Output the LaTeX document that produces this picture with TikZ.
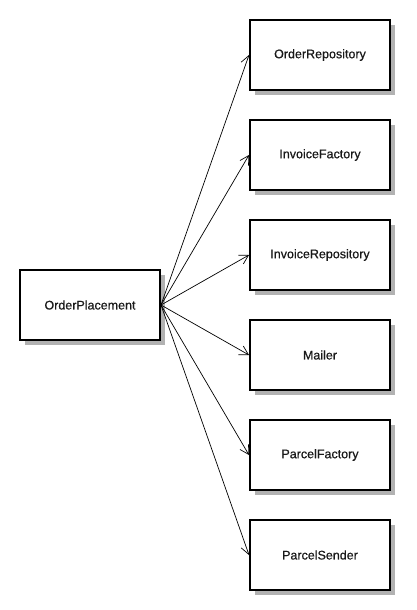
\documentclass[tikz,border=0pt]{standalone}
\usepackage{fontspec}
\setmainfont{Liberation Sans}[FakeBold=0.6]
\usepackage{tikz}
\usetikzlibrary{positioning, shadows, arrows.meta}
\tikzset{
    block/.style={
        draw, line width = 2pt,
        fill = white,
        minimum width = 140pt,
        minimum height = 70pt,
        align = center,
        text = black!90,
        font = \fontsize{12.5}{15}\selectfont,
        drop shadow = {shadow xshift=5pt, shadow yshift=-5pt, fill=black!30, opacity=1}
    },
    line/.style = {line width=0.7pt, -{Straight Barb[angle=60:10pt, line width=0.7pt]}}
}
\begin{document}
\begin{tikzpicture}
    \useasboundingbox (0pt,0pt) rectangle (416pt,-610pt);

    % Client
    \node[block] (place) at (90pt,-305pt) {OrderPlacement};

    % Collaborators
    \node[block] (orderRepo) at (320pt,-55pt) {OrderRepository};
    \node[block, below = 28pt of orderRepo] (invFactory) {InvoiceFactory};
    \node[block, below = 28pt of invFactory] (invRepo) {InvoiceRepository};
    \node[block, below = 28pt of invRepo] (mailer) {Mailer};
    \node[block, below = 28pt of mailer] (parFactory) {ParcelFactory};
    \node[block, below = 28pt of parFactory] (parSender) {ParcelSender};

    % Lines
    \draw[line] (place.east) -- (orderRepo.west);
    \draw[line] (place.east) -- (invFactory.west);
    \draw[line] (place.east) -- (invRepo.west);
    \draw[line] (place.east) -- (mailer.west);
    \draw[line] (place.east) -- (parFactory.west);
    \draw[line] (place.east) -- (parSender.west);

\end{tikzpicture}
\end{document}
